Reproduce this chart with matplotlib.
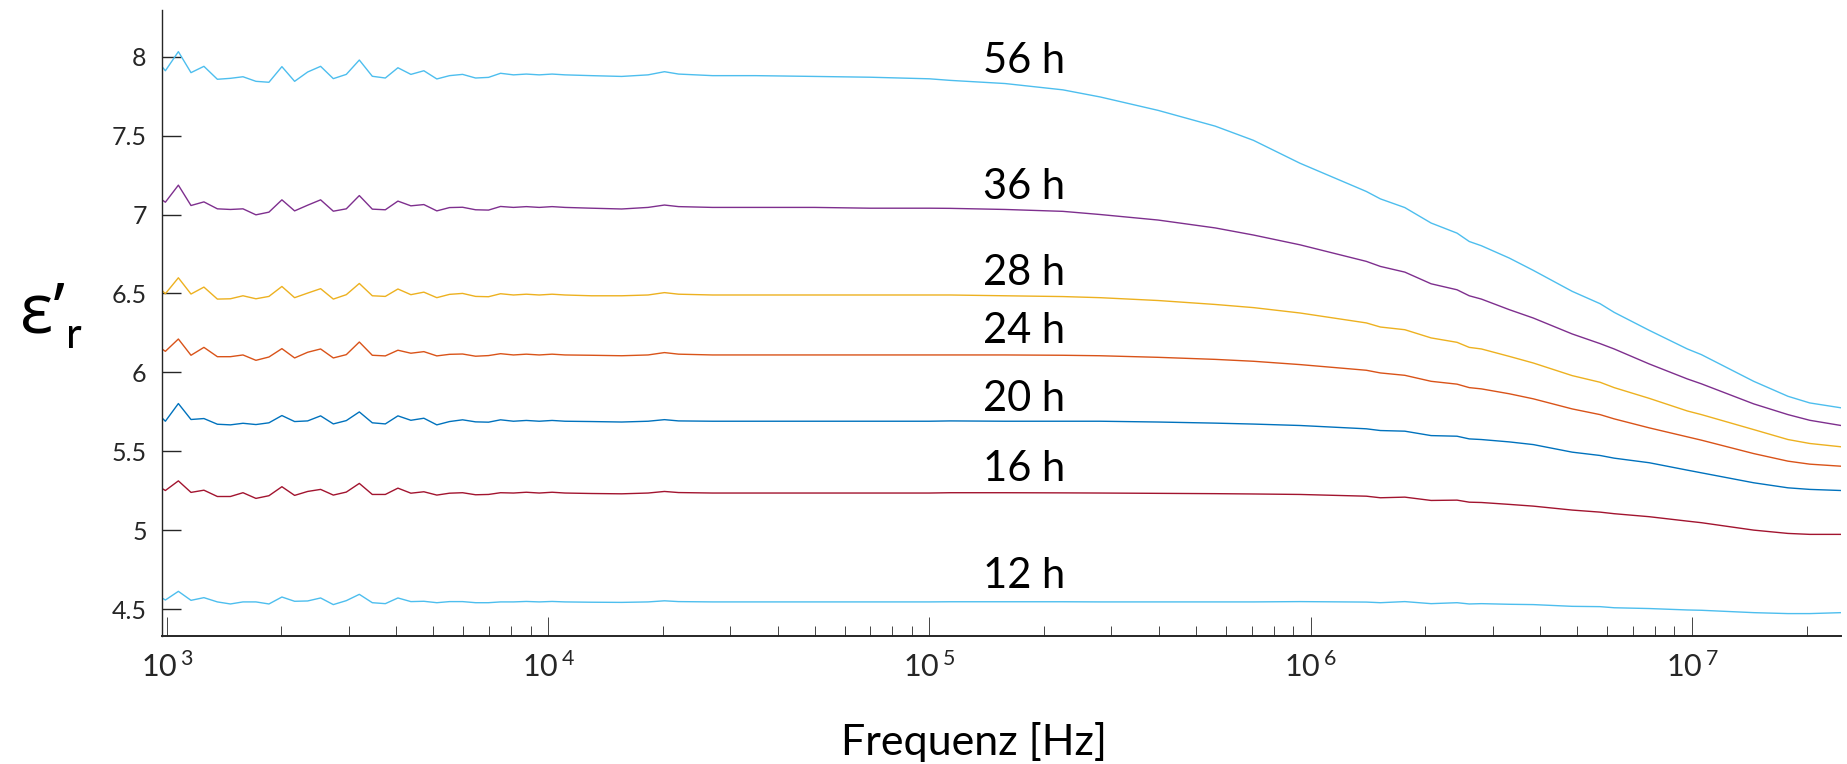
import numpy as np
import matplotlib.pyplot as plt
from matplotlib.ticker import FixedLocator, LogLocator, NullFormatter

plt.rcParams['font.family'] = ['Lato', 'Open Sans', 'DejaVu Sans']
plt.rcParams['mathtext.fontset'] = 'custom'
plt.rcParams['mathtext.rm'] = 'Lato'
plt.rcParams['mathtext.default'] = 'regular'

# Messfrequenzen [Hz]
freq_hz = [972, 992, 1073, 1158, 1252, 1358, 1469, 1585, 1714, 1854, 2005, 2165, 2342, 2533,
           2735, 2958, 3200, 3461, 3744, 4040, 4369, 4725, 5110, 5518, 5969, 6457, 6982, 7508,
           8117, 8774, 9484, 10250, 11080, 13000, 15600, 18300, 20200, 22000, 27000, 35000,
           50000, 70000, 100000, 113500, 158000, 224000, 280500, 398000, 562000, 708000, 937600,
           1.400e6, 1.524e6, 1.766e6, 2.070e6, 2.421e6, 2.606e6, 2.805e6, 3.319e6, 3.837e6,
           4.853e6, 5.741e6, 6.252e6, 7.727e6, 9.727e6, 1.059e7, 1.452e7, 1.786e7, 2.037e7, 2.460e7]

eps_56h = [7.937, 7.911, 8.032, 7.899, 7.939, 7.857, 7.863, 7.873, 7.844, 7.838, 7.937, 7.844, 7.903, 7.939,
           7.861, 7.888, 7.979, 7.876, 7.865, 7.930, 7.888, 7.911, 7.859, 7.880, 7.888, 7.865, 7.869, 7.895,
           7.885, 7.890, 7.885, 7.890, 7.885, 7.880, 7.875, 7.885, 7.905, 7.890, 7.880, 7.880,
           7.875, 7.870, 7.860, 7.850, 7.830, 7.790, 7.745, 7.660, 7.560, 7.470, 7.325,
           7.146, 7.099, 7.044, 6.946, 6.882, 6.829, 6.802, 6.724, 6.646,
           6.513, 6.435, 6.380, 6.266, 6.148, 6.112, 5.943, 5.848, 5.806, 5.775]

eps_36h = [7.093, 7.078, 7.186, 7.057, 7.080, 7.036, 7.032, 7.036, 6.998, 7.015, 7.093, 7.023, 7.059, 7.093,
           7.021, 7.036, 7.120, 7.034, 7.030, 7.085, 7.055, 7.063, 7.023, 7.044, 7.046, 7.030, 7.028, 7.051,
           7.045, 7.050, 7.045, 7.050, 7.045, 7.040, 7.035, 7.045, 7.060, 7.050, 7.045, 7.045,
           7.045, 7.040, 7.040, 7.039, 7.032, 7.020, 7.000, 6.965, 6.915, 6.870, 6.808,
           6.703, 6.671, 6.635, 6.561, 6.523, 6.485, 6.464, 6.397, 6.344,
           6.243, 6.182, 6.148, 6.053, 5.958, 5.927, 5.800, 5.732, 5.696, 5.663]

eps_28h = [6.519, 6.498, 6.599, 6.496, 6.540, 6.464, 6.466, 6.485, 6.466, 6.481, 6.544, 6.473, 6.502, 6.530,
           6.464, 6.492, 6.563, 6.485, 6.481, 6.528, 6.492, 6.508, 6.473, 6.494, 6.500, 6.481, 6.479, 6.498,
           6.490, 6.495, 6.490, 6.495, 6.490, 6.485, 6.485, 6.490, 6.505, 6.495, 6.490, 6.490,
           6.490, 6.490, 6.490, 6.490, 6.485, 6.480, 6.473, 6.455, 6.430, 6.410, 6.376,
           6.313, 6.287, 6.270, 6.218, 6.190, 6.158, 6.148, 6.101, 6.059,
           5.979, 5.937, 5.903, 5.835, 5.755, 5.732, 5.637, 5.574, 5.549, 5.528]

eps_24h = [6.148, 6.133, 6.211, 6.108, 6.158, 6.099, 6.099, 6.110, 6.076, 6.097, 6.150, 6.091, 6.127, 6.148,
           6.091, 6.112, 6.192, 6.108, 6.104, 6.140, 6.121, 6.131, 6.104, 6.114, 6.116, 6.102, 6.106, 6.118,
           6.110, 6.115, 6.110, 6.115, 6.110, 6.108, 6.105, 6.110, 6.125, 6.115, 6.110, 6.110,
           6.110, 6.110, 6.110, 6.110, 6.110, 6.108, 6.105, 6.095, 6.082, 6.070, 6.049,
           6.013, 5.996, 5.981, 5.943, 5.925, 5.903, 5.895, 5.864, 5.832,
           5.768, 5.732, 5.705, 5.648, 5.591, 5.570, 5.485, 5.437, 5.418, 5.405]

eps_20h = [5.711, 5.690, 5.802, 5.701, 5.707, 5.671, 5.667, 5.677, 5.669, 5.680, 5.726, 5.688, 5.692, 5.724,
           5.673, 5.694, 5.749, 5.680, 5.673, 5.724, 5.696, 5.709, 5.667, 5.688, 5.699, 5.686, 5.684, 5.699,
           5.690, 5.695, 5.690, 5.695, 5.690, 5.688, 5.685, 5.690, 5.700, 5.692, 5.690, 5.690,
           5.690, 5.690, 5.690, 5.692, 5.690, 5.690, 5.690, 5.685, 5.678, 5.672, 5.663,
           5.642, 5.631, 5.627, 5.599, 5.595, 5.578, 5.574, 5.559, 5.542,
           5.494, 5.473, 5.456, 5.427, 5.380, 5.363, 5.300, 5.268, 5.258, 5.251]

eps_16h = [5.264, 5.251, 5.312, 5.239, 5.253, 5.213, 5.213, 5.237, 5.201, 5.218, 5.275, 5.220, 5.245, 5.258,
           5.222, 5.241, 5.296, 5.226, 5.226, 5.266, 5.234, 5.243, 5.222, 5.234, 5.237, 5.224, 5.226, 5.237,
           5.235, 5.240, 5.235, 5.240, 5.235, 5.232, 5.230, 5.235, 5.245, 5.238, 5.235, 5.235,
           5.235, 5.235, 5.235, 5.237, 5.237, 5.236, 5.235, 5.233, 5.231, 5.229, 5.226,
           5.215, 5.205, 5.209, 5.188, 5.190, 5.177, 5.175, 5.163, 5.152,
           5.127, 5.114, 5.104, 5.085, 5.057, 5.047, 5.000, 4.979, 4.973, 4.973]

eps_12h = [4.570, 4.557, 4.612, 4.555, 4.572, 4.545, 4.532, 4.545, 4.545, 4.532, 4.576, 4.549, 4.551, 4.570,
           4.528, 4.553, 4.593, 4.540, 4.534, 4.570, 4.547, 4.549, 4.540, 4.547, 4.547, 4.540, 4.540, 4.545,
           4.545, 4.548, 4.545, 4.548, 4.545, 4.543, 4.542, 4.545, 4.552, 4.547, 4.545, 4.545,
           4.545, 4.545, 4.545, 4.546, 4.546, 4.546, 4.545, 4.545, 4.545, 4.545, 4.547,
           4.544, 4.540, 4.547, 4.534, 4.540, 4.532, 4.534, 4.530, 4.528,
           4.517, 4.515, 4.508, 4.503, 4.494, 4.492, 4.477, 4.471, 4.471, 4.477]

kurven = [eps_56h, eps_36h, eps_28h, eps_24h, eps_20h, eps_16h, eps_12h]
farben = ['#4DBEEE', '#7E2F8E', '#EDB120', '#D95319', '#0072BD', '#A2142F', '#4DBEEE']
beschriftung = ['56 h', '36 h', '28 h', '24 h', '20 h', '16 h', '12 h']
beschriftung_y = [7.970, 7.175, 6.632, 6.259, 5.830, 5.389, 4.707]
beschriftung_x = 1.775e5

x_ticks = [1e3, 1e4, 1e5, 1e6, 1e7]
x_ticklabels = [r'$10^{\,3}$', r'$10^{\,4}$', r'$10^{\,5}$', r'$10^{\,6}$', r'$10^{\,7}$']
y_ticks = [4.5, 5, 5.5, 6, 6.5, 7, 7.5, 8]
y_ticklabels = ['4.5', '5', '5.5', '6', '6.5', '7', '7.5', '8']

fig = plt.figure(figsize=(18.47, 7.64), dpi=100)
ax = fig.add_axes([162 / 1847, 1 - 636 / 764, (1841 - 162) / 1847, (636 - 10) / 764])

for werte, farbe in zip(kurven, farben):
    ax.plot(freq_hz, werte, color=farbe, lw=1.0)

for txt, yy in zip(beschriftung, beschriftung_y):
    ax.text(beschriftung_x, yy, txt, ha='center', va='center', fontsize=30, color='black')

ax.set_xscale('log')
ax.set_xlim(972, 2.46e7)
ax.set_ylim(4.329, 8.296)

ax.xaxis.set_major_locator(FixedLocator(x_ticks))
ax.set_xticklabels(x_ticklabels)
ax.xaxis.set_minor_locator(LogLocator(base=10, subs=np.arange(2, 10)))
ax.xaxis.set_minor_formatter(NullFormatter())
ax.set_yticks(y_ticks)
ax.set_yticklabels(y_ticklabels)

for s in ['top', 'right']:
    ax.spines[s].set_visible(False)
ax.spines['left'].set_linewidth(1.0)
ax.spines['bottom'].set_linewidth(1.4)
ax.spines['left'].set_color('#262626')
ax.spines['bottom'].set_color('#262626')

ax.tick_params(axis='y', direction='in', length=13.5, width=1.0, pad=11, labelsize=18, colors='#262626')
ax.tick_params(axis='x', which='major', direction='in', length=13.5, width=0.6, pad=11, labelsize=22,
               colors='#262626')
ax.tick_params(axis='x', which='minor', direction='in', length=7, width=0.6, colors='#262626')

# Achsenbeschriftungen
fig.text(973.7 / 1847, 1 - 742 / 764, 'Frequenz [Hz]', ha='center', va='center', fontsize=31)
fig.text(20 / 1847, 1 - 332 / 764, 'ε’', ha='left', va='baseline', fontsize=50,
         family=['Open Sans', 'DejaVu Sans'])
fig.text(66 / 1847, 1 - 348 / 764, 'r', ha='left', va='baseline', fontsize=31)

fig.savefig('out.png', dpi=100)
